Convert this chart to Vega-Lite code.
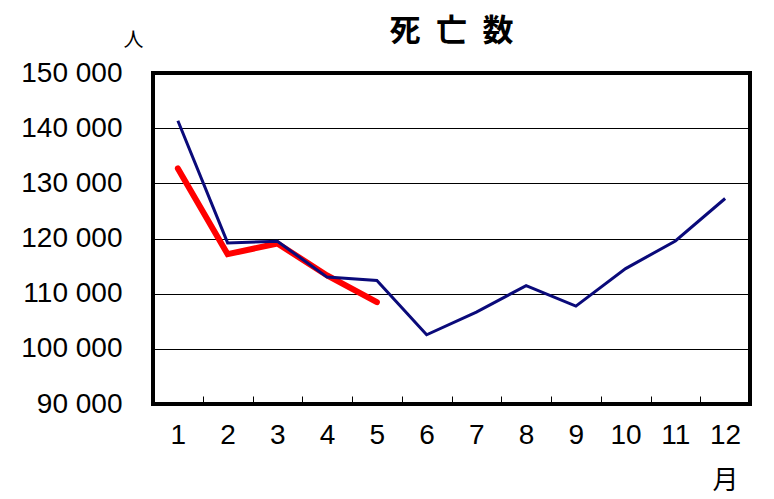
{
  "$schema": "https://vega.github.io/schema/vega-lite/v6.json",
  "autosize": {"type": "none"},
  "width": 597,
  "height": 331,
  "padding": {"left": 153, "top": 73, "right": 24, "bottom": 95},
  "background": "white",
  "title": {"text": "死\u2002亡\u2002数", "font": "Noto Sans CJK JP", "fontSize": 31, "fontWeight": "bold", "color": "black", "anchor": "middle", "offset": -18},
  "data": {"values": [
    {"month": 1, "series": "前年", "deaths": 141350},
    {"month": 2, "series": "前年", "deaths": 119200},
    {"month": 3, "series": "前年", "deaths": 119500},
    {"month": 4, "series": "前年", "deaths": 113000},
    {"month": 5, "series": "前年", "deaths": 112400},
    {"month": 6, "series": "前年", "deaths": 102550},
    {"month": 7, "series": "前年", "deaths": 106650},
    {"month": 8, "series": "前年", "deaths": 111450},
    {"month": 9, "series": "前年", "deaths": 107750},
    {"month": 10, "series": "前年", "deaths": 114550},
    {"month": 11, "series": "前年", "deaths": 119550},
    {"month": 12, "series": "前年", "deaths": 127250},
    {"month": 1, "series": "本年", "deaths": 132700},
    {"month": 2, "series": "本年", "deaths": 117150},
    {"month": 3, "series": "本年", "deaths": 119100},
    {"month": 4, "series": "本年", "deaths": 113300},
    {"month": 5, "series": "本年", "deaths": 108450}
  ]},
  "encoding": {
    "x": {
      "field": "month", "type": "ordinal", "bandPosition": 0.5,
      "scale": {"type": "band", "paddingInner": 0, "paddingOuter": 0},
      "axis": {
        "title": "月", "titleFont": "Noto Sans CJK JP", "titleFontSize": 26, "titleFontWeight": "normal",
        "titleColor": "black", "titleX": 572, "titleY": 76, "titleAlign": "center", "titleBaseline": "middle",
        "labelAngle": 0, "labelFont": "Liberation Sans", "labelFontSize": 28, "labelColor": "black",
        "labelPadding": 25, "tickBand": "extent", "tickSize": -8, "tickColor": "black", "tickWidth": 1,
        "domain": false, "grid": false
      }
    },
    "y": {
      "field": "deaths", "type": "quantitative",
      "scale": {"domain": [90000, 150000], "nice": false, "zero": false},
      "axis": {
        "title": "人", "titleFont": "Noto Sans CJK JP", "titleFontSize": 20, "titleFontWeight": "normal",
        "titleColor": "black", "titleAngle": 0, "titleX": -20, "titleY": -33, "titleAlign": "center", "titleBaseline": "middle",
        "values": [90000, 100000, 110000, 120000, 130000, 140000, 150000],
        "labelExpr": "replace(format(datum.value, ','), ',', ' ')",
        "labelFont": "Liberation Sans", "labelFontSize": 28, "labelColor": "black", "labelPadding": 31,
        "ticks": false, "domain": false, "grid": true, "gridColor": "black", "gridWidth": 1, "gridOpacity": 1
      }
    }
  },
  "layer": [
    {
      "transform": [{"filter": "datum.series === '本年'"}],
      "mark": {"type": "line", "color": "#ff0000", "strokeWidth": 6, "strokeCap": "round", "strokeJoin": "miter"}
    },
    {
      "transform": [{"filter": "datum.series === '前年'"}],
      "mark": {"type": "line", "color": "#0a0a7a", "strokeWidth": 3}
    }
  ],
  "config": {
    "view": {"stroke": "black", "strokeWidth": 4},
    "axis": {"labelOverlap": false}
  }
}
